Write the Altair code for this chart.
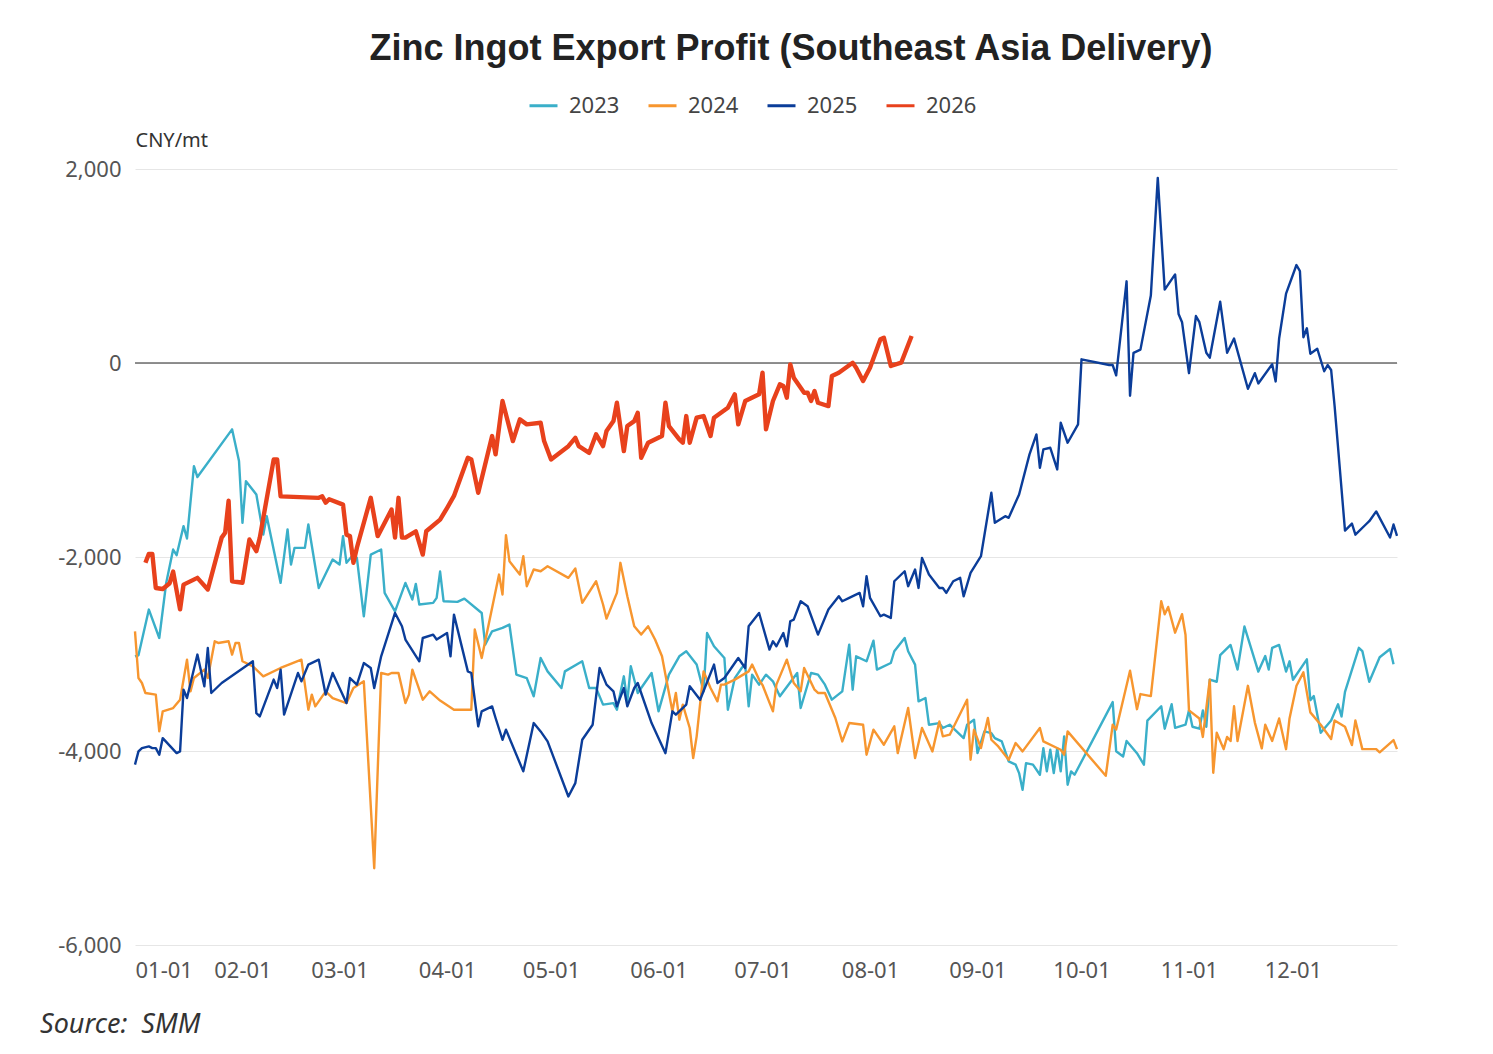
import altair as alt
import pandas as pd

# Series: day offset from Jan 1 and export profit (CNY/mt)
years = ["2023", "2024", "2025", "2026"]
colors = ["#3AAFC9", "#F7962F", "#0B3D99", "#E8411C"]

days_2023 = [0, 1, 4, 7, 9, 11, 12, 14, 15, 17, 18, 28, 30, 31, 32, 35, 37, 38, 42, 44,
             45, 46, 49, 50, 53, 57, 59, 60, 61, 63, 64, 66, 68, 71, 72, 75, 78, 80, 81, 82,
             86, 87, 88, 89, 93, 95, 100, 101, 103, 106, 108, 110, 113, 115, 117, 119, 123, 124, 129, 131,
             133, 135, 138, 139, 141, 142, 143, 145, 149, 151, 154, 157, 159, 162, 164, 165, 167, 170, 171, 173,
             175, 176, 177, 178, 180, 182, 184, 186, 191, 192, 195, 197, 199, 201, 204, 206, 207, 208, 211, 213,
             214, 218, 219, 222, 223, 225, 226, 228, 229, 232, 233, 235, 236, 239, 240, 242, 243, 245, 247, 248,
             250, 252, 254, 255, 256, 257, 259, 261, 262, 263, 264, 265, 266, 267, 268, 269, 270, 271, 282, 283,
             285, 286, 289, 291, 292, 296, 297, 299, 300, 303, 304, 305, 307, 308, 309, 310, 312, 313, 316, 318,
             320, 324, 326, 327, 328, 330, 332, 333, 334, 338, 339, 340, 342, 345, 347, 348, 349, 353, 354, 356,
             359, 362, 363]
vals_2023 = [-3024, -3013, -2542, -2835, -2267, -1923, -1981, -1682, -1809, -1063, -1176, -684, -1011, -1648, -1218, -1355, -1768, -1579, -2267, -1716,
             -2078, -1906, -1906, -1665, -2319, -2026, -2078, -1785, -2060, -1975, -2009, -2611, -1975, -1923, -2370, -2560, -2267, -2439, -2277, -2490,
             -2473, -2422, -2150, -2456, -2463, -2429, -2577, -2903, -2766, -2731, -2697, -3213, -3248, -3436, -3041, -3179, -3351, -3179, -3075, -3351,
             -3351, -3522, -3506, -3574, -3230, -3488, -3127, -3402, -3196, -3591, -3213, -3024, -2972, -3109, -3385, -2783, -2920, -3041, -3574, -3248,
             -3144, -3109, -3540, -3213, -3316, -3213, -3282, -3436, -3196, -3557, -3196, -3213, -3316, -3471, -3385, -2903, -3368, -3024, -3075, -2862,
             -3161, -3093, -2972, -2835, -2972, -3109, -3488, -3454, -3729, -3712, -3763, -3729, -3763, -3867, -3729, -3677, -4022, -3798, -3815, -3867,
             -3901, -4107, -4141, -4228, -4400, -4125, -4141, -4245, -3970, -4210, -3987, -4228, -3970, -4210, -3849, -4348, -4210, -4245, -3496, -4002,
             -4057, -3897, -4023, -4141, -3686, -3539, -3770, -3518, -3761, -3729, -3581, -3750, -3770, -3581, -3750, -3265, -3286, -3012, -2907, -3160,
             -2717, -3181, -3021, -3160, -2936, -2907, -3181, -3075, -3265, -3055, -3476, -3434, -3812, -3686, -3518, -3644, -3391, -2936, -2970, -3286,
             -3034, -2949, -3105]

days_2024 = [0, 1, 2, 3, 6, 7, 8, 11, 13, 15, 16, 17, 20, 21, 23, 24, 27, 28, 29, 30,
             31, 34, 37, 42, 48, 50, 51, 52, 55, 57, 61, 63, 66, 69, 71, 73, 74, 76, 78, 79,
             80, 83, 85, 88, 92, 97, 98, 100, 105, 106, 107, 108, 111, 112, 113, 115, 117, 119, 125, 127,
             129, 133, 135, 136, 139, 140, 142, 144, 146, 148, 150, 152, 153, 155, 156, 157, 158, 160, 161, 162,
             164, 166, 168, 169, 170, 173, 177, 178, 180, 181, 184, 185, 188, 190, 192, 193, 196, 197, 199, 202,
             204, 206, 210, 211, 213, 216, 219, 220, 223, 225, 227, 230, 232, 233, 235, 240, 241, 242, 244, 246,
             247, 249, 252, 254, 256, 261, 262, 267, 268, 269, 280, 282, 283, 287, 289, 290, 293, 296, 297, 298,
             300, 302, 303, 304, 307, 308, 310, 311, 312, 314, 315, 316, 317, 318, 321, 323, 325, 326, 328, 330,
             332, 333, 335, 337, 339, 342, 345, 346, 349, 351, 352, 354, 358, 359, 363, 364]
vals_2024 = [-2766, -3248, -3299, -3402, -3419, -3798, -3591, -3557, -3471, -3058, -3385, -3248, -3161, -3248, -2869, -2886, -2869, -3006, -2886, -2886,
             -3075, -3127, -3230, -3144, -3058, -3574, -3419, -3540, -3385, -3454, -3506, -3351, -3282, -5209, -3196, -3213, -3196, -3196, -3506, -3419,
             -3161, -3471, -3385, -3480, -3574, -3574, -2748, -3041, -2181, -2387, -1775, -2043, -2181, -1992, -2301, -2129, -2147, -2095, -2215, -2119,
             -2473, -2250, -2490, -2635, -2370, -2060, -2405, -2714, -2800, -2714, -2851, -3024, -3213, -3591, -3402, -3677, -3522, -3763, -4073, -3849,
             -3179, -3351, -3488, -3316, -3316, -3264, -3179, -3109, -3264, -3320, -3591, -3316, -3058, -3299, -3385, -3144, -3368, -3402, -3402, -3660,
             -3901, -3712, -3729, -4038, -3780, -3935, -3746, -4022, -3557, -4073, -3763, -4004, -3695, -3849, -3832, -3471, -4090, -3780, -3970, -3660,
             -3884, -3953, -4090, -3918, -4004, -3763, -3901, -3987, -4038, -3798, -4255, -3729, -3779, -3172, -3569, -3413, -3434, -2456, -2590, -2515,
             -2780, -2590, -2802, -3581, -3665, -3855, -3265, -4225, -3812, -3981, -3855, -3897, -3539, -3897, -3328, -3707, -3973, -3729, -3897, -3665,
             -3981, -3665, -3328, -3189, -3602, -3729, -3876, -3686, -3750, -3939, -3686, -3981, -3981, -4014, -3888, -3981]

days_2025 = [0, 1, 2, 4, 5, 6, 7, 8, 12, 13, 14, 15, 18, 20, 21, 22, 25, 34, 35, 36,
             40, 41, 42, 43, 47, 48, 50, 53, 55, 57, 61, 62, 64, 66, 68, 69, 71, 75, 77, 78,
             82, 83, 86, 87, 90, 91, 92, 96, 97, 99, 100, 103, 104, 106, 107, 112, 115, 117, 119, 125,
             127, 129, 132, 134, 136, 138, 139, 141, 142, 144, 145, 149, 153, 155, 156, 159, 160, 163, 167, 168,
             170, 174, 176, 177, 180, 183, 184, 185, 187, 188, 189, 190, 192, 194, 197, 200, 203, 204, 206, 209,
             210, 211, 212, 215, 216, 218, 219, 222, 223, 225, 226, 227, 229, 232, 233, 234, 236, 238, 239, 241,
             244, 247, 248, 251, 252, 255, 258, 260, 261, 262, 264, 266, 267, 269, 272, 273, 281, 282, 283, 286,
             287, 288, 290, 293, 295, 297, 300, 301, 302, 304, 306, 307, 309, 310, 313, 315, 317, 321, 323, 324,
             328, 329, 330, 332, 335, 336, 337, 338, 339, 341, 343, 344, 345, 346, 349, 351, 352, 355, 356, 358,
             362, 363, 364]
vals_2025 = [-4140, -4004, -3970, -3953, -3970, -3970, -4038, -3867, -4022, -4004, -3367, -3454, -3006, -3333, -2938, -3402, -3299, -3075, -3609, -3643,
             -3264, -3351, -3161, -3625, -3196, -3282, -3109, -3058, -3419, -3196, -3506, -3248, -3316, -3093, -3144, -3351, -3024, -2577, -2714, -2851,
             -3075, -2835, -2800, -2851, -2783, -3024, -2594, -3179, -3196, -3746, -3591, -3540, -3660, -3884, -3780, -4210, -3712, -3798, -3901, -4469,
             -4331, -3884, -3729, -3144, -3316, -3385, -3540, -3351, -3540, -3351, -3299, -3712, -4022, -3591, -3625, -3522, -3333, -3471, -3109, -3299,
             -3248, -3041, -3144, -2714, -2577, -2955, -2869, -2920, -2783, -2920, -2662, -2645, -2456, -2508, -2800, -2542, -2405, -2456, -2422, -2370,
             -2508, -2198, -2422, -2611, -2594, -2628, -2250, -2147, -2301, -2129, -2319, -2009, -2181, -2319, -2319, -2370, -2250, -2215, -2405, -2164,
             -1992, -1338, -1648, -1579, -1596, -1355, -942, -736, -1080, -891, -874, -1097, -616, -822, -633, 38, -21, -21, -127, 842,
             -337, 105, 138, 695, 1908, 757, 913, 506, 421, -105, 484, 421, 105, 55, 632, 105, 252, -266, -105, -211,
             -13, -190, 252, 715, 1010, 947, 265, 358, 96, 147, -85, -21, -72, -443, -1728, -1656, -1770, -1665, -1631, -1530,
             -1799, -1665, -1782]

days_2026 = [3, 4, 5, 6, 8, 10, 11, 13, 14, 18, 21, 25, 26, 27, 28, 31, 33, 35, 36, 40,
             41, 42, 53, 54, 55, 56, 60, 61, 62, 63, 64, 68, 70, 74, 75, 76, 77, 78, 81, 83,
             84, 88, 90, 92, 96, 97, 99, 103, 104, 106, 109, 111, 113, 117, 118, 120, 125, 127, 128, 131,
             133, 135, 136, 138, 139, 141, 142, 144, 145, 146, 148, 152, 153, 154, 157, 158, 159, 160, 162, 164,
             166, 167, 171, 173, 174, 176, 180, 181, 182, 184, 186, 187, 188, 189, 190, 193, 194, 195, 196, 197,
             200, 201, 203, 207, 208, 210, 212, 215, 216, 218, 221, 224]
vals_2026 = [-2060, -1968, -1968, -2320, -2330, -2270, -2150, -2540, -2285, -2215, -2335, -1800, -1750, -1420, -2250, -2265, -1820, -1940, -1800, -995,
             -995, -1375, -1390, -1375, -1440, -1405, -1460, -1770, -1785, -2060, -1905, -1390, -1785, -1510, -1800, -1390, -1800, -1800, -1735, -1975,
             -1735, -1615, -1495, -1370, -977, -994, -1338, -753, -942, -392, -805, -581, -633, -616, -805, -994, -857, -771, -857, -926,
             -736, -857, -702, -599, -410, -908, -650, -599, -513, -977, -822, -753, -410, -650, -788, -822, -547, -822, -564, -547,
             -753, -564, -461, -323, -633, -392, -323, -100, -684, -392, -220, -237, -358, -14, -151, -306, -306, -392, -289, -410,
             -444, -134, -100, 3, -48, -186, -48, 245, 261, -31, 3, 279]

y_ticks = [-6000, -4000, -2000, 0, 2000]

frames = []
for yr, d, v in zip(years,
                    [days_2023, days_2024, days_2025, days_2026],
                    [vals_2023, vals_2024, vals_2025, vals_2026]):
    dates = (pd.Timestamp("2025-01-01") + pd.to_timedelta(d, unit="D")).strftime("%Y-%m-%d")
    frames.append(pd.DataFrame({"date": dates, "profit": v, "year": yr}))
df = pd.concat(frames, ignore_index=True)

W, H = 1262, 776
label_font = "Noto Sans"

x_enc = alt.X(
    "date:T",
    scale=alt.Scale(type="utc", domain=[alt.DateTime(year=2025, month=1, date=1, utc=True),
                                        alt.DateTime(year=2025, month=12, date=31, utc=True)]),
    axis=alt.Axis(title=None, format="%m-%d", labelFlush=True, domain=False, ticks=False, grid=False,
                  values=[alt.DateTime(year=2025, month=m, date=1, utc=True) for m in range(1, 13)],
                  labelPadding=15, labelFontSize=22, labelColor="#555555", labelFont=label_font),
)
y_enc = alt.Y(
    "profit:Q",
    scale=alt.Scale(domain=[-6000, 2000], nice=False, zero=False),
    axis=alt.Axis(title="CNY/mt", values=y_ticks, format=",.0f", domain=False, ticks=False,
                  grid=True, gridColor="#E6E6E6", gridWidth=1,
                  labelExpr="replace(datum.label, '\u2212', '-')",
                  labelPadding=14, labelFontSize=22, labelColor="#555555", labelFont=label_font,
                  titleAngle=0, titleX=0, titleY=-29, titleAlign="left", titleBaseline="middle",
                  titleFontSize=20, titleFontWeight="normal", titleColor="#333333", titleFont=label_font),
)

lines = alt.Chart(df).mark_line(strokeJoin="round").encode(
    x=x_enc,
    y=y_enc,
    color=alt.Color("year:N", scale=alt.Scale(domain=years, range=colors),
                    legend=alt.Legend(title=None, orient="none", direction="horizontal",
                                      legendX=393, legendY=-79, symbolType="stroke",
                                      symbolSize=784, symbolStrokeWidth=3, labelOffset=10,
                                      columnPadding=22, labelFontSize=22, labelColor="#444444",
                                      labelFont=label_font)),
    strokeWidth=alt.condition(alt.datum.year == "2026", alt.value(4.4), alt.value(2.4)),
)

zero_rule = alt.Chart(pd.DataFrame({"v": [0]})).mark_rule(color="#6B6B6B", strokeWidth=1.3).encode(
    y=alt.Y("v:Q")
)

source = alt.Chart(pd.DataFrame({"t": ["Source:\u00a0\u00a0SMM"]})).mark_text(
    align="left", baseline="middle", fontStyle="italic", fontSize=27, color="#333333", font=label_font
).encode(x=alt.value(-95), y=alt.value(856), text="t:N")

chart = alt.layer(zero_rule, lines, source).properties(
    width=W,
    height=H,
    background="white",
    title=alt.TitleParams("Zinc Ingot Export Profit (Southeast Asia Delivery)", fontSize=36,
                          font="Liberation Sans", fontWeight="bold", color="#222222",
                          anchor="middle", dx=25, offset=22),
    autosize=alt.AutoSizeParams(type="none"),
    padding={"left": 127, "top": 161, "right": 88, "bottom": 100},
).configure_view(stroke=None)

chart.save("out.html", embed_options={"renderer": "svg", "actions": False})
